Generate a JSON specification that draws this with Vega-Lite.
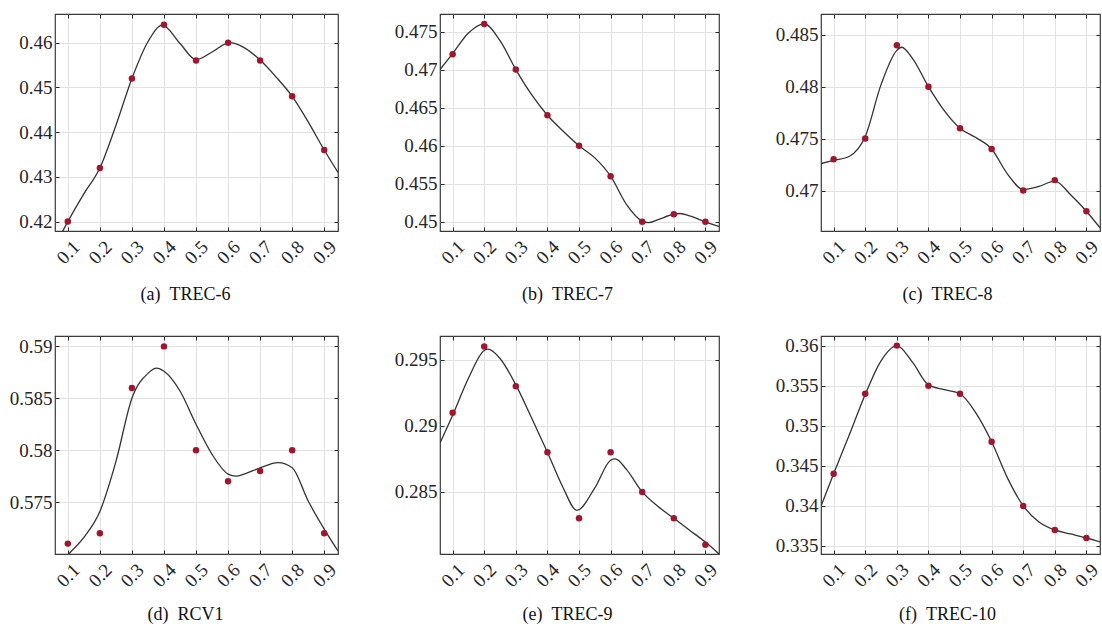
{
"$schema": "https://vega.github.io/schema/vega-lite/v6.json",
"background": "white",
"padding": {"left": 8, "top": 12, "right": 0, "bottom": 0},
"config": {
  "view": {"stroke": "#3a3a3a", "strokeWidth": 1.2},
  "axis": {"labelFont": "Liberation Serif", "labelFontSize": 19, "labelColor": "#262626", "domain": false, "tickColor": "#262626", "tickSize": -4, "tickWidth": 1, "gridColor": "#e2e2e2", "gridWidth": 1, "titleFont": "Liberation Serif", "titleFontSize": 18, "titleFontWeight": "normal", "titleColor": "#111111", "labelOverlap": false, "labelFlush": false, "labelBound": false}
},
"datasets": {
  "pts": [
    {"p":"a","x":0.1,"y":0.420},{"p":"a","x":0.2,"y":0.432},{"p":"a","x":0.3,"y":0.452},{"p":"a","x":0.4,"y":0.464},{"p":"a","x":0.5,"y":0.456},{"p":"a","x":0.6,"y":0.460},{"p":"a","x":0.7,"y":0.456},{"p":"a","x":0.8,"y":0.448},{"p":"a","x":0.9,"y":0.436},
    {"p":"b","x":0.1,"y":0.472},{"p":"b","x":0.2,"y":0.476},{"p":"b","x":0.3,"y":0.470},{"p":"b","x":0.4,"y":0.464},{"p":"b","x":0.5,"y":0.460},{"p":"b","x":0.6,"y":0.456},{"p":"b","x":0.7,"y":0.450},{"p":"b","x":0.8,"y":0.451},{"p":"b","x":0.9,"y":0.450},
    {"p":"c","x":0.1,"y":0.473},{"p":"c","x":0.2,"y":0.475},{"p":"c","x":0.3,"y":0.484},{"p":"c","x":0.4,"y":0.480},{"p":"c","x":0.5,"y":0.476},{"p":"c","x":0.6,"y":0.474},{"p":"c","x":0.7,"y":0.470},{"p":"c","x":0.8,"y":0.471},{"p":"c","x":0.9,"y":0.468},
    {"p":"d","x":0.1,"y":0.571},{"p":"d","x":0.2,"y":0.572},{"p":"d","x":0.3,"y":0.586},{"p":"d","x":0.4,"y":0.590},{"p":"d","x":0.5,"y":0.580},{"p":"d","x":0.6,"y":0.577},{"p":"d","x":0.7,"y":0.578},{"p":"d","x":0.8,"y":0.580},{"p":"d","x":0.9,"y":0.572},
    {"p":"e","x":0.1,"y":0.291},{"p":"e","x":0.2,"y":0.296},{"p":"e","x":0.3,"y":0.293},{"p":"e","x":0.4,"y":0.288},{"p":"e","x":0.5,"y":0.283},{"p":"e","x":0.6,"y":0.288},{"p":"e","x":0.7,"y":0.285},{"p":"e","x":0.8,"y":0.283},{"p":"e","x":0.9,"y":0.281},
    {"p":"f","x":0.1,"y":0.344},{"p":"f","x":0.2,"y":0.354},{"p":"f","x":0.3,"y":0.360},{"p":"f","x":0.4,"y":0.355},{"p":"f","x":0.5,"y":0.354},{"p":"f","x":0.6,"y":0.348},{"p":"f","x":0.7,"y":0.340},{"p":"f","x":0.8,"y":0.337},{"p":"f","x":0.9,"y":0.336}
  ],
  "curve": [
    {"p":"a","x":0.06,"y":0.4146},{"p":"a","x":0.1,"y":0.420},{"p":"a","x":0.15,"y":0.4262},{"p":"a","x":0.2,"y":0.432},{"p":"a","x":0.25,"y":0.4415},{"p":"a","x":0.3,"y":0.452},{"p":"a","x":0.35,"y":0.4602},{"p":"a","x":0.395,"y":0.4639},{"p":"a","x":0.45,"y":0.4598},{"p":"a","x":0.5,"y":0.4562},{"p":"a","x":0.55,"y":0.4579},{"p":"a","x":0.605,"y":0.4600},{"p":"a","x":0.65,"y":0.4589},{"p":"a","x":0.7,"y":0.4561},{"p":"a","x":0.75,"y":0.4523},{"p":"a","x":0.8,"y":0.448},{"p":"a","x":0.85,"y":0.4423},{"p":"a","x":0.9,"y":0.436},{"p":"a","x":0.943,"y":0.4310},
    {"p":"b","x":0.06,"y":0.4700},{"p":"b","x":0.1,"y":0.4721},{"p":"b","x":0.15,"y":0.4748},{"p":"b","x":0.2,"y":0.4760},{"p":"b","x":0.25,"y":0.4738},{"p":"b","x":0.3,"y":0.4700},{"p":"b","x":0.35,"y":0.4667},{"p":"b","x":0.4,"y":0.4640},{"p":"b","x":0.45,"y":0.4619},{"p":"b","x":0.5,"y":0.4600},{"p":"b","x":0.55,"y":0.4584},{"p":"b","x":0.6,"y":0.4560},{"p":"b","x":0.65,"y":0.4523},{"p":"b","x":0.7,"y":0.4501},{"p":"b","x":0.72,"y":0.4499},{"p":"b","x":0.75,"y":0.4503},{"p":"b","x":0.8,"y":0.4510},{"p":"b","x":0.82,"y":0.4511},{"p":"b","x":0.85,"y":0.4508},{"p":"b","x":0.9,"y":0.4500},{"p":"b","x":0.943,"y":0.4494},
    {"p":"c","x":0.06,"y":0.4726},{"p":"c","x":0.1,"y":0.4729},{"p":"c","x":0.15,"y":0.4733},{"p":"c","x":0.2,"y":0.4752},{"p":"c","x":0.25,"y":0.4802},{"p":"c","x":0.3,"y":0.4835},{"p":"c","x":0.315,"y":0.4838},{"p":"c","x":0.35,"y":0.4827},{"p":"c","x":0.4,"y":0.4800},{"p":"c","x":0.45,"y":0.4777},{"p":"c","x":0.5,"y":0.4760},{"p":"c","x":0.55,"y":0.4751},{"p":"c","x":0.6,"y":0.4740},{"p":"c","x":0.65,"y":0.4716},{"p":"c","x":0.7,"y":0.4701},{"p":"c","x":0.75,"y":0.4704},{"p":"c","x":0.8,"y":0.4709},{"p":"c","x":0.85,"y":0.4696},{"p":"c","x":0.9,"y":0.4680},{"p":"c","x":0.943,"y":0.4664},
    {"p":"d","x":0.06,"y":0.5685},{"p":"d","x":0.1,"y":0.5699},{"p":"d","x":0.15,"y":0.5716},{"p":"d","x":0.2,"y":0.5741},{"p":"d","x":0.25,"y":0.5789},{"p":"d","x":0.3,"y":0.5850},{"p":"d","x":0.35,"y":0.5874},{"p":"d","x":0.377,"y":0.5879},{"p":"d","x":0.4,"y":0.5876},{"p":"d","x":0.45,"y":0.5857},{"p":"d","x":0.5,"y":0.5825},{"p":"d","x":0.55,"y":0.5796},{"p":"d","x":0.6,"y":0.5777},{"p":"d","x":0.625,"y":0.5775},{"p":"d","x":0.65,"y":0.5777},{"p":"d","x":0.7,"y":0.5783},{"p":"d","x":0.756,"y":0.5788},{"p":"d","x":0.8,"y":0.5783},{"p":"d","x":0.85,"y":0.5751},{"p":"d","x":0.9,"y":0.5724},{"p":"d","x":0.943,"y":0.5703},
    {"p":"e","x":0.06,"y":0.2887},{"p":"e","x":0.1,"y":0.2908},{"p":"e","x":0.15,"y":0.2936},{"p":"e","x":0.2,"y":0.2957},{"p":"e","x":0.211,"y":0.2958},{"p":"e","x":0.25,"y":0.2951},{"p":"e","x":0.3,"y":0.2931},{"p":"e","x":0.35,"y":0.2906},{"p":"e","x":0.4,"y":0.2880},{"p":"e","x":0.45,"y":0.2853},{"p":"e","x":0.493,"y":0.2836},{"p":"e","x":0.55,"y":0.2853},{"p":"e","x":0.6,"y":0.2874},{"p":"e","x":0.615,"y":0.2875},{"p":"e","x":0.65,"y":0.2867},{"p":"e","x":0.7,"y":0.2850},{"p":"e","x":0.75,"y":0.2839},{"p":"e","x":0.8,"y":0.2830},{"p":"e","x":0.85,"y":0.2821},{"p":"e","x":0.9,"y":0.2812},{"p":"e","x":0.943,"y":0.2803},
    {"p":"f","x":0.06,"y":0.3400},{"p":"f","x":0.1,"y":0.3440},{"p":"f","x":0.15,"y":0.3489},{"p":"f","x":0.2,"y":0.3539},{"p":"f","x":0.25,"y":0.3581},{"p":"f","x":0.3,"y":0.3600},{"p":"f","x":0.35,"y":0.3579},{"p":"f","x":0.4,"y":0.3551},{"p":"f","x":0.45,"y":0.3545},{"p":"f","x":0.5,"y":0.3540},{"p":"f","x":0.55,"y":0.3516},{"p":"f","x":0.6,"y":0.3480},{"p":"f","x":0.65,"y":0.3435},{"p":"f","x":0.7,"y":0.3400},{"p":"f","x":0.75,"y":0.3380},{"p":"f","x":0.8,"y":0.3370},{"p":"f","x":0.85,"y":0.3365},{"p":"f","x":0.9,"y":0.3360},{"p":"f","x":0.943,"y":0.3355}
  ]
},
"columns": 3,
"align": "each",
"bounds": "flush",
"spacing": {"row": 105, "column": 102},
"concat": [
  {"width": 283, "height": 217, "resolve": {"axis": {"x": "independent", "y": "independent"}},
   "layer": [
    {"data": {"name": "curve"}, "transform": [{"filter": "datum.p == 'a'"}],
     "mark": {"type": "line", "interpolate": "monotone", "color": "#333333", "strokeWidth": 1.3, "clip": true},
     "encoding": {
      "x": {"field": "x", "type": "quantitative", "scale": {"domain": [0.06, 0.943], "nice": false, "zero": false}, "axis": {"values": [0.1,0.2,0.3,0.4,0.5,0.6,0.7,0.8,0.9], "format": "~g", "labelAngle": 315, "labelAlign": "center", "labelBaseline": "middle", "labelPadding": 25, "title": "(a)\u00a0\u00a0TREC-6", "titleX": 130, "titleY": 68, "titleAlign": "center", "titleBaseline": "alphabetic"}},
      "y": {"field": "y", "type": "quantitative", "scale": {"domain": [0.4179, 0.4664], "nice": false, "zero": false}, "axis": {"values": [0.42,0.43,0.44,0.45,0.46], "format": "~g", "labelPadding": 7, "title": null}}}},
    {"data": {"name": "pts"}, "transform": [{"filter": "datum.p == 'a'"}],
     "mark": {"type": "point", "filled": true, "size": 42, "color": "#A2142F", "opacity": 1},
     "encoding": {
      "x": {"field": "x", "type": "quantitative", "axis": {"orient": "top", "values": [0.1,0.2,0.3,0.4,0.5,0.6,0.7,0.8,0.9], "labels": false, "grid": false, "title": null}},
      "y": {"field": "y", "type": "quantitative", "axis": {"orient": "right", "values": [0.42,0.43,0.44,0.45,0.46], "labels": false, "grid": false, "title": null}}}}
   ]},
  {"width": 279, "height": 217, "resolve": {"axis": {"x": "independent", "y": "independent"}},
   "layer": [
    {"data": {"name": "curve"}, "transform": [{"filter": "datum.p == 'b'"}],
     "mark": {"type": "line", "interpolate": "monotone", "color": "#333333", "strokeWidth": 1.3, "clip": true},
     "encoding": {
      "x": {"field": "x", "type": "quantitative", "scale": {"domain": [0.06, 0.943], "nice": false, "zero": false}, "axis": {"values": [0.1,0.2,0.3,0.4,0.5,0.6,0.7,0.8,0.9], "format": "~g", "labelAngle": 315, "labelAlign": "center", "labelBaseline": "middle", "labelPadding": 25, "title": "(b)\u00a0\u00a0TREC-7", "titleX": 127, "titleY": 68, "titleAlign": "center", "titleBaseline": "alphabetic"}},
      "y": {"field": "y", "type": "quantitative", "scale": {"domain": [0.4488, 0.4773], "nice": false, "zero": false}, "axis": {"values": [0.45,0.455,0.46,0.465,0.47,0.475], "format": "~g", "labelPadding": 7, "title": null}}}},
    {"data": {"name": "pts"}, "transform": [{"filter": "datum.p == 'b'"}],
     "mark": {"type": "point", "filled": true, "size": 42, "color": "#A2142F", "opacity": 1},
     "encoding": {
      "x": {"field": "x", "type": "quantitative", "axis": {"orient": "top", "values": [0.1,0.2,0.3,0.4,0.5,0.6,0.7,0.8,0.9], "labels": false, "grid": false, "title": null}},
      "y": {"field": "y", "type": "quantitative", "axis": {"orient": "right", "values": [0.45,0.455,0.46,0.465,0.47,0.475], "labels": false, "grid": false, "title": null}}}}
   ]},
  {"width": 279, "height": 217, "resolve": {"axis": {"x": "independent", "y": "independent"}},
   "layer": [
    {"data": {"name": "curve"}, "transform": [{"filter": "datum.p == 'c'"}],
     "mark": {"type": "line", "interpolate": "monotone", "color": "#333333", "strokeWidth": 1.3, "clip": true},
     "encoding": {
      "x": {"field": "x", "type": "quantitative", "scale": {"domain": [0.06, 0.943], "nice": false, "zero": false}, "axis": {"values": [0.1,0.2,0.3,0.4,0.5,0.6,0.7,0.8,0.9], "format": "~g", "labelAngle": 315, "labelAlign": "center", "labelBaseline": "middle", "labelPadding": 25, "title": "(c)\u00a0\u00a0TREC-8", "titleX": 126, "titleY": 68, "titleAlign": "center", "titleBaseline": "alphabetic"}},
      "y": {"field": "y", "type": "quantitative", "scale": {"domain": [0.4661, 0.4870], "nice": false, "zero": false}, "axis": {"values": [0.47,0.475,0.48,0.485], "format": "~g", "labelPadding": 7, "title": null}}}},
    {"data": {"name": "pts"}, "transform": [{"filter": "datum.p == 'c'"}],
     "mark": {"type": "point", "filled": true, "size": 42, "color": "#A2142F", "opacity": 1},
     "encoding": {
      "x": {"field": "x", "type": "quantitative", "axis": {"orient": "top", "values": [0.1,0.2,0.3,0.4,0.5,0.6,0.7,0.8,0.9], "labels": false, "grid": false, "title": null}},
      "y": {"field": "y", "type": "quantitative", "axis": {"orient": "right", "values": [0.47,0.475,0.48,0.485], "labels": false, "grid": false, "title": null}}}}
   ]},
  {"width": 283, "height": 218, "resolve": {"axis": {"x": "independent", "y": "independent"}},
   "layer": [
    {"data": {"name": "curve"}, "transform": [{"filter": "datum.p == 'd'"}],
     "mark": {"type": "line", "interpolate": "monotone", "color": "#333333", "strokeWidth": 1.3, "clip": true},
     "encoding": {
      "x": {"field": "x", "type": "quantitative", "scale": {"domain": [0.06, 0.943], "nice": false, "zero": false}, "axis": {"values": [0.1,0.2,0.3,0.4,0.5,0.6,0.7,0.8,0.9], "format": "~g", "labelAngle": 315, "labelAlign": "center", "labelBaseline": "middle", "labelPadding": 25, "title": "(d)\u00a0\u00a0RCV1", "titleX": 130, "titleY": 65, "titleAlign": "center", "titleBaseline": "alphabetic"}},
      "y": {"field": "y", "type": "quantitative", "scale": {"domain": [0.5700, 0.5910], "nice": false, "zero": false}, "axis": {"values": [0.575,0.58,0.585,0.59], "format": "~g", "labelPadding": 7, "title": null}}}},
    {"data": {"name": "pts"}, "transform": [{"filter": "datum.p == 'd'"}],
     "mark": {"type": "point", "filled": true, "size": 42, "color": "#A2142F", "opacity": 1},
     "encoding": {
      "x": {"field": "x", "type": "quantitative", "axis": {"orient": "top", "values": [0.1,0.2,0.3,0.4,0.5,0.6,0.7,0.8,0.9], "labels": false, "grid": false, "title": null}},
      "y": {"field": "y", "type": "quantitative", "axis": {"orient": "right", "values": [0.575,0.58,0.585,0.59], "labels": false, "grid": false, "title": null}}}}
   ]},
  {"width": 279, "height": 218, "resolve": {"axis": {"x": "independent", "y": "independent"}},
   "layer": [
    {"data": {"name": "curve"}, "transform": [{"filter": "datum.p == 'e'"}],
     "mark": {"type": "line", "interpolate": "monotone", "color": "#333333", "strokeWidth": 1.3, "clip": true},
     "encoding": {
      "x": {"field": "x", "type": "quantitative", "scale": {"domain": [0.06, 0.943], "nice": false, "zero": false}, "axis": {"values": [0.1,0.2,0.3,0.4,0.5,0.6,0.7,0.8,0.9], "format": "~g", "labelAngle": 315, "labelAlign": "center", "labelBaseline": "middle", "labelPadding": 25, "title": "(e)\u00a0\u00a0TREC-9", "titleX": 127, "titleY": 65, "titleAlign": "center", "titleBaseline": "alphabetic"}},
      "y": {"field": "y", "type": "quantitative", "scale": {"domain": [0.2803, 0.2968], "nice": false, "zero": false}, "axis": {"values": [0.285,0.29,0.295], "format": "~g", "labelPadding": 7, "title": null}}}},
    {"data": {"name": "pts"}, "transform": [{"filter": "datum.p == 'e'"}],
     "mark": {"type": "point", "filled": true, "size": 42, "color": "#A2142F", "opacity": 1},
     "encoding": {
      "x": {"field": "x", "type": "quantitative", "axis": {"orient": "top", "values": [0.1,0.2,0.3,0.4,0.5,0.6,0.7,0.8,0.9], "labels": false, "grid": false, "title": null}},
      "y": {"field": "y", "type": "quantitative", "axis": {"orient": "right", "values": [0.285,0.29,0.295], "labels": false, "grid": false, "title": null}}}}
   ]},
  {"width": 279, "height": 218, "resolve": {"axis": {"x": "independent", "y": "independent"}},
   "layer": [
    {"data": {"name": "curve"}, "transform": [{"filter": "datum.p == 'f'"}],
     "mark": {"type": "line", "interpolate": "monotone", "color": "#333333", "strokeWidth": 1.3, "clip": true},
     "encoding": {
      "x": {"field": "x", "type": "quantitative", "scale": {"domain": [0.06, 0.943], "nice": false, "zero": false}, "axis": {"values": [0.1,0.2,0.3,0.4,0.5,0.6,0.7,0.8,0.9], "format": "~g", "labelAngle": 315, "labelAlign": "center", "labelBaseline": "middle", "labelPadding": 25, "title": "(f)\u00a0\u00a0TREC-10", "titleX": 126, "titleY": 65, "titleAlign": "center", "titleBaseline": "alphabetic"}},
      "y": {"field": "y", "type": "quantitative", "scale": {"domain": [0.3340, 0.3612], "nice": false, "zero": false}, "axis": {"values": [0.335,0.34,0.345,0.35,0.355,0.36], "format": "~g", "labelPadding": 7, "title": null}}}},
    {"data": {"name": "pts"}, "transform": [{"filter": "datum.p == 'f'"}],
     "mark": {"type": "point", "filled": true, "size": 42, "color": "#A2142F", "opacity": 1},
     "encoding": {
      "x": {"field": "x", "type": "quantitative", "axis": {"orient": "top", "values": [0.1,0.2,0.3,0.4,0.5,0.6,0.7,0.8,0.9], "labels": false, "grid": false, "title": null}},
      "y": {"field": "y", "type": "quantitative", "axis": {"orient": "right", "values": [0.335,0.34,0.345,0.35,0.355,0.36], "labels": false, "grid": false, "title": null}}}}
   ]}
]
}
